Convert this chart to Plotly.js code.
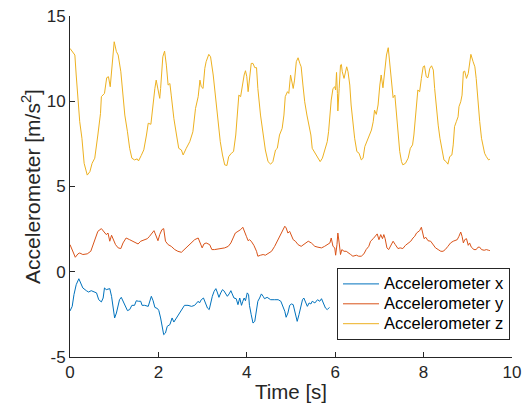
<!DOCTYPE html>
<html>
<head>
<meta charset="utf-8">
<script src="https://cdn.plot.ly/plotly-3.0.1.min.js"></script>
<style>html,body{margin:0;padding:0;background:#fff;}#chart{width:530px;height:416px;}</style>
</head>
<body>
<div id="chart"></div>
<script>
// Accelerometer z (yellow)
const tZ = [0.00,0.11,0.14,0.18,0.22,0.27,0.32,0.39,0.45,0.50,0.56,0.63,0.69,0.71,0.78,0.83,0.87,0.91,0.94,1.00,1.05,1.09,1.15,1.20,1.24,1.30,1.35,1.40,1.46,1.52,1.55,1.61,1.67,1.73,1.77,1.83,1.88,1.92,1.95,1.99,2.03,2.05,2.10,2.14,2.18,2.22,2.26,2.29,2.35,2.41,2.46,2.52,2.56,
2.63,2.71,2.78,2.84,2.90,2.94,2.97,3.01,3.05,3.08,3.14,3.18,3.24,3.29,3.35,3.40,3.45,3.50,3.55,3.59,3.65,3.70,3.75,3.79,3.82,3.86,3.90,3.94,3.97,4.00,4.03,4.06,4.10,4.14,4.18,4.22,4.25,4.31,4.37,4.42,4.48,4.54,4.59,4.65,4.69,4.74,4.80,4.84,4.87,4.92,4.95,4.99,
5.05,5.08,5.12,5.16,5.20,5.23,5.27,5.31,5.36,5.41,5.45,5.48,5.54,5.60,5.66,5.71,5.76,5.82,5.85,5.88,5.91,5.95,5.99,6.01,6.03,6.05,6.06,6.09,6.12,6.14,6.16,6.20,6.23,6.26,6.29,6.33,6.36,6.40,6.44,6.49,6.54,6.59,6.63,6.67,6.72,6.77,6.82,6.86,6.89,6.93,6.97,7.01,7.04,7.08,7.12,7.16,7.20,7.23,7.27,7.31,7.35,7.38,
7.42,7.46,7.50,7.53,7.59,7.65,7.70,7.75,7.78,7.81,7.84,7.87,7.91,7.95,7.99,8.02,8.06,8.10,8.14,8.18,8.22,8.25,8.29,8.33,8.37,8.42,8.46,8.51,8.55,8.59,8.64,8.67,8.70,8.74,8.78,8.80,8.84,8.87,8.90,8.93,8.97,9.01,9.04,9.07,9.12,9.16,9.19,9.23,9.27,9.31,9.34,9.38,9.42,9.47,9.50];
const accZ = [13.10,12.71,11.54,9.97,8.80,7.83,6.36,5.67,5.87,6.36,6.66,8.02,9.29,10.27,10.46,11.38,11.44,10.85,11.73,13.49,12.91,12.71,11.73,10.36,9.19,8.21,7.24,6.66,6.56,6.62,6.50,6.81,7.15,8.02,8.71,8.65,9.97,10.75,11.24,10.75,10.17,10.75,12.61,12.94,12.12,10.95,11.04,10.36,8.99,8.02,7.24,7.14,6.85,
7.24,7.63,8.21,9.58,10.27,11.24,10.85,10.75,11.93,12.32,12.75,12.61,11.54,10.36,8.80,7.63,6.85,6.27,6.23,6.75,6.95,7.05,8.02,9.19,10.36,10.27,10.95,11.54,11.79,11.44,10.56,11.14,12.22,12.22,11.97,11.97,10.75,9.19,8.02,7.14,6.46,6.31,6.46,7.14,7.24,8.02,8.41,9.19,10.27,10.56,10.46,11.54,
10.75,11.24,12.32,12.55,12.22,12.02,10.95,9.97,9.19,8.41,8.02,7.24,7.00,6.75,6.46,6.66,7.05,7.63,8.21,9.19,10.07,10.75,10.85,10.66,11.69,10.46,9.43,10.75,12.12,12.16,11.73,11.34,11.73,12.02,11.73,10.95,9.78,8.60,7.83,7.05,6.95,6.56,6.66,7.34,7.63,8.02,8.31,8.80,9.48,9.23,9.78,10.95,11.54,10.79,11.73,12.71,13.14,12.32,10.95,10.21,10.36,9.38,
8.21,7.05,6.46,6.27,6.36,6.66,7.24,7.44,8.02,9.19,9.78,10.66,10.56,11.34,12.02,12.08,11.44,11.38,11.93,12.08,11.83,10.75,9.58,8.60,7.83,7.05,6.56,6.46,6.31,6.75,6.85,7.44,8.51,8.80,9.09,9.68,9.97,10.36,11.73,11.77,11.34,11.63,12.41,12.75,12.32,12.02,11.34,9.97,8.80,7.83,7.44,6.95,6.75,6.56,6.60];

// Accelerometer y (orange)
const tY = [0.00,0.07,0.12,0.18,0.22,0.29,0.39,0.47,0.52,0.57,0.63,0.71,0.77,0.82,0.86,0.90,0.94,0.97,1.03,1.09,1.15,1.20,1.27,1.35,1.43,1.50,1.54,1.60,1.67,1.75,1.80,1.86,1.90,1.93,1.96,1.99,2.03,2.08,2.12,2.16,2.22,2.29,2.37,2.44,2.52,
2.59,2.67,2.75,2.82,2.90,2.94,2.99,3.03,3.08,3.16,3.21,3.27,3.35,3.42,3.50,3.58,3.64,3.69,3.74,3.80,3.86,3.91,3.95,3.99,4.03,4.06,4.10,4.16,4.22,4.25,4.31,4.37,4.42,4.48,4.56,4.63,4.71,4.78,4.82,4.86,4.89,4.93,4.97,5.01,5.05,
5.10,5.16,5.23,5.31,5.39,5.46,5.54,5.61,5.69,5.76,5.82,5.88,5.91,5.95,5.99,6.01,6.04,6.06,6.09,6.12,6.15,6.20,6.25,6.29,6.35,6.40,6.48,6.53,6.59,6.65,6.70,6.76,6.80,6.86,6.91,6.95,6.99,7.03,7.07,7.10,7.13,7.17,7.21,7.26,7.31,7.36,7.42,7.47,7.53,
7.59,7.65,7.71,7.76,7.80,7.84,7.87,7.91,7.95,7.97,8.01,8.05,8.10,8.16,8.21,8.27,8.33,8.39,8.44,8.49,8.55,8.61,8.67,8.70,8.76,8.80,8.84,8.87,8.90,8.93,8.97,9.01,9.04,9.08,9.14,9.19,9.23,9.27,9.31,9.37,9.42,9.47,9.50];
const accY = [1.59,1.20,0.85,1.05,1.10,1.01,1.05,1.20,1.59,1.98,2.37,2.53,2.37,2.18,2.27,1.79,2.14,1.98,1.59,1.40,1.36,1.69,1.98,1.88,1.79,1.69,1.63,1.79,1.88,1.94,2.08,2.27,2.41,2.22,2.02,1.82,2.18,2.47,2.53,1.79,1.59,1.49,1.30,1.20,1.14,
1.30,1.49,1.69,1.88,1.98,1.69,1.40,1.63,1.69,1.59,1.30,1.30,1.34,1.36,1.40,1.49,1.69,1.98,2.27,2.37,2.47,2.61,2.27,2.08,1.82,1.88,1.79,1.55,1.20,0.91,0.97,1.01,0.97,1.05,1.20,1.49,1.88,2.27,2.41,2.67,2.57,2.27,2.37,2.08,1.88,
1.79,1.59,1.49,1.63,1.79,1.69,1.49,1.44,1.40,1.49,1.59,1.69,1.98,1.49,1.40,0.97,1.59,2.27,1.69,1.01,1.30,1.20,1.20,1.10,1.01,0.91,0.97,0.91,0.91,1.05,1.30,1.49,1.79,1.94,2.08,2.22,1.88,2.18,1.94,2.18,1.94,1.40,1.30,1.55,1.79,1.59,1.36,1.40,1.36,
1.55,1.69,1.79,1.98,2.08,2.27,2.33,2.41,2.61,2.37,1.94,2.02,1.82,1.79,1.59,1.40,1.30,1.20,1.20,1.30,1.49,1.69,1.79,1.82,1.88,2.08,2.33,2.08,1.69,1.88,1.94,1.55,1.69,1.44,1.30,1.30,1.44,1.44,1.30,1.26,1.30,1.26,1.24];

// Accelerometer x (blue) — visible part, the rest is hidden behind the legend
const tX = [0.00,0.05,0.09,0.14,0.20,0.24,0.29,0.37,0.42,0.48,0.54,0.60,0.65,0.71,0.75,0.78,0.82,0.90,0.94,0.97,1.01,1.05,1.09,1.12,1.16,1.20,1.24,1.30,1.35,1.40,1.46,1.50,1.55,1.60,1.63,1.69,1.77,1.80,1.84,1.88,1.92,1.98,2.01,2.05,2.08,2.12,2.16,2.20,2.26,2.31,2.35,2.41,2.47,2.52,
2.59,2.67,2.75,2.82,2.86,2.90,2.93,2.97,3.02,3.06,3.11,3.15,3.18,3.22,3.26,3.30,3.33,3.37,3.41,3.45,3.48,3.52,3.56,3.60,3.64,3.67,3.71,3.76,3.80,3.84,3.88,3.91,3.94,3.97,4.01,4.04,4.06,4.10,4.14,4.18,4.22,4.25,4.29,4.33,4.37,4.40,4.46,4.54,4.63,4.71,4.77,4.82,4.86,4.89,4.93,4.97,5.01,5.05,
5.10,5.14,5.18,5.22,5.26,5.29,5.33,5.37,5.41,5.45,5.48,5.54,5.60,5.65,5.69,5.73,5.78,5.82,5.87];
const accX = [-2.30,-2.03,-1.34,-0.76,-0.41,-0.66,-0.95,-1.11,-1.19,-1.11,-1.19,-1.24,-1.64,-1.77,-1.54,-0.95,-1.05,-0.99,-1.44,-2.13,-2.71,-2.42,-1.93,-1.64,-1.50,-1.73,-2.03,-2.28,-2.22,-1.97,-1.97,-1.70,-1.73,-1.73,-1.97,-1.97,-2.03,-1.73,-1.44,-1.70,-2.09,-2.16,-2.28,-2.71,-3.10,-3.69,-3.59,-3.20,-3.10,-2.71,-2.95,-2.71,-2.42,-2.22,
-1.97,-1.97,-2.03,-1.97,-1.83,-1.73,-1.83,-1.64,-1.54,-1.83,-2.13,-2.22,-1.83,-1.44,-1.15,-0.99,-1.19,-1.50,-1.24,-1.05,-1.11,-1.30,-1.44,-1.30,-1.11,-1.30,-1.54,-1.58,-1.93,-1.54,-1.97,-1.73,-1.54,-1.70,-1.24,-1.34,-1.97,-2.52,-3.01,-2.91,-2.32,-1.73,-1.54,-1.30,-1.44,-1.58,-1.50,-1.64,-1.64,-1.64,-1.73,-2.03,-2.32,-2.67,-2.42,-1.97,-1.89,-1.93,
-2.42,-2.91,-2.52,-1.97,-1.64,-1.54,-1.83,-2.03,-1.83,-1.89,-1.73,-1.83,-1.64,-1.73,-1.58,-1.83,-2.13,-2.22,-2.09];

const seriesNames = ['Accelerometer x','Accelerometer y','Accelerometer z'];
const xTicks = [0,2,4,6,8,10];
const yTicks = [-5,0,5,10,15];

const colors = ['#0072BD','#D95319','#EDB120'];
const FONT = '"Liberation Sans", Arial, Helvetica, sans-serif';
const AX = '#262626';

function legendName(n){ return '<span style="font-size:16.5px">' + n + '</span>'; }

const traces = [
  {x:tX, y:accX, name:legendName(seriesNames[0]), type:'scatter', mode:'lines', line:{color:colors[0], width:1}},
  {x:tY, y:accY, name:legendName(seriesNames[1]), type:'scatter', mode:'lines', line:{color:colors[1], width:1}},
  {x:tZ, y:accZ, name:legendName(seriesNames[2]), type:'scatter', mode:'lines', line:{color:colors[2], width:1}}
];

const axisCommon = {
  showgrid:false, zeroline:false, showline:true, linecolor:AX, linewidth:1,
  ticks:'inside', ticklen:5, tickwidth:1, tickcolor:AX,
  tickfont:{family:FONT, size:17, color:AX}
};

const layout = {
  width:530, height:416,
  margin:{l:70, r:18, t:16, b:59},
  paper_bgcolor:'#ffffff', plot_bgcolor:'#ffffff',
  font:{family:FONT, color:AX},
  showlegend:true,
  xaxis:Object.assign({}, axisCommon, {
    range:[0,10], tickvals:xTicks, ticktext:xTicks.map(String),
    title:{text:'Time [s]', font:{family:FONT, size:20.5, color:AX}, standoff:3}
  }),
  yaxis:Object.assign({}, axisCommon, {
    range:[-5,15], tickvals:yTicks, ticktext:yTicks.map(String),
    title:{text:'Accelerometer [m/s<sup>2</sup>]', font:{family:FONT, size:21, color:AX}, standoff:0}
  }),
  legend:{
    x:0.9955, y:0.05, xanchor:'right', yanchor:'bottom',
    bgcolor:'#ffffff', bordercolor:AX, borderwidth:1,
    font:{family:FONT, size:13, color:'#000000'},
    tracegroupgap:0, itemwidth:36
  }
};

Plotly.newPlot('chart', traces, layout, {displayModeBar:false, staticPlot:true});
</script>
</body>
</html>
